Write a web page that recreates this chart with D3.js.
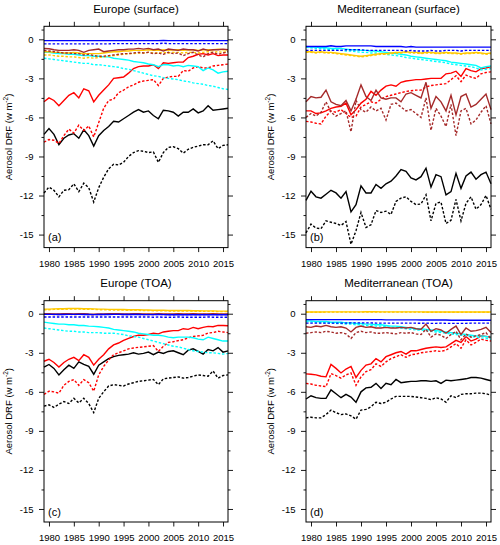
<!DOCTYPE html>
<html><head><meta charset="utf-8">
<script src="https://cdn.jsdelivr.net/npm/d3@7"></script>
<style>
body{margin:0;background:#fff;}
svg{display:block;font-family:"Liberation Sans",Arial,sans-serif;}
</style></head>
<body><svg id="chart" width="500" height="545"></svg>
<script>
const years = [1979,1980,1981,1982,1983,1984,1985,1986,1987,1988,1989,1990,1991,1992,1993,1994,1995,1996,1997,1998,1999,2000,2001,2002,2003,2004,2005,2006,2007,2008,2009,2010,2011,2012,2013,2014,2015,2016];
const xTickYears = [1980,1985,1990,1995,2000,2005,2010,2015];
const yMajorTicks = [0,-3,-6,-9,-12,-15];
const yMinorTicks = [0.75,-1.5,-4.5,-7.5,-10.5,-13.5];
const panelTitles = ["Europe (surface)","Mediterranean (surface)","Europe (TOA)","Mediterranean (TOA)"];
const panelLabels = ["(a)","(b)","(c)","(d)"];
const yAxisTitle = "Aerosol DRF (w m";

// ---- Panel (a) Europe surface ----
const a_blackS=[-7.3,-6.85,-7.3,-8.1,-7.6,-7.35,-7.25,-7.6,-6.95,-7.4,-8.2,-7.4,-7.0,-6.7,-6.3,-6.35,-6.1,-5.85,-5.6,-5.4,-5.6,-5.5,-5.85,-6.1,-5.45,-5.5,-5.6,-5.9,-5.6,-5.6,-5.35,-5.65,-5.5,-5.1,-5.45,-5.4,-5.35,-5.3];
const a_blackD=[-11.8,-11.35,-11.6,-12.1,-11.6,-11.55,-11.1,-11.7,-11.05,-11.4,-12.5,-11.4,-10.6,-9.95,-9.6,-9.65,-9.45,-9.0,-8.7,-8.55,-8.6,-8.7,-8.65,-9.45,-8.7,-8.3,-8.25,-8.4,-8.75,-8.45,-8.3,-8.2,-8.1,-8.1,-7.8,-8.4,-8.15,-8.1];
const a_redS=[-4.8,-4.5,-4.7,-5.1,-4.7,-4.3,-4.1,-4.5,-3.8,-3.95,-4.8,-4.3,-3.9,-3.5,-3.0,-2.95,-2.9,-2.6,-2.25,-2.1,-2.05,-2.05,-1.95,-2.25,-1.8,-1.85,-1.8,-1.75,-1.75,-1.4,-1.3,-1.15,-1.1,-1.2,-1.1,-1.25,-1.2,-1.2];
const a_redD=[-7.9,-7.7,-7.75,-8.0,-7.4,-6.9,-7.2,-6.6,-7.0,-6.65,-7.5,-6.4,-5.3,-4.7,-4.6,-4.1,-3.9,-3.65,-3.5,-3.3,-3.2,-3.15,-3.1,-3.55,-3.0,-2.9,-2.85,-2.85,-2.4,-2.45,-2.2,-2.1,-2.2,-2.2,-2.05,-2.0,-1.95,-1.9];
const a_cyanS=[-1.0,-1.0,-1.05,-1.1,-1.1,-1.15,-1.15,-1.2,-1.25,-1.25,-1.3,-1.3,-1.35,-1.35,-1.45,-1.5,-1.55,-1.6,-1.7,-1.75,-1.8,-1.9,-1.95,-2.1,-1.95,-1.95,-2.05,-2.0,-2.1,-2.0,-2.05,-2.1,-2.4,-2.2,-2.35,-2.6,-2.5,-2.45];
const a_cyanD=[-1.45,-1.5,-1.55,-1.6,-1.65,-1.7,-1.75,-1.8,-1.85,-1.85,-1.95,-1.95,-2.0,-2.05,-2.1,-2.15,-2.25,-2.3,-2.4,-2.5,-2.6,-2.7,-2.8,-2.85,-2.95,-3.0,-3.05,-3.1,-3.2,-3.25,-3.35,-3.4,-3.45,-3.55,-3.6,-3.7,-3.8,-3.85];
const a_yellowS=[-0.95,-0.95,-1.0,-1.0,-1.05,-1.05,-1.0,-1.05,-1.1,-1.1,-1.1,-1.1,-1.05,-1.0,-0.95,-0.95,-0.9,-0.9,-0.85,-0.85,-0.85,-0.8,-0.85,-0.85,-0.8,-0.85,-0.8,-0.8,-0.85,-0.8,-0.8,-0.85,-0.8,-0.8,-0.8,-0.75,-0.8,-0.8];
const a_yellowD=[-1.2,-1.2,-1.25,-1.3,-1.3,-1.35,-1.35,-1.4,-1.45,-1.4,-1.45,-1.4,-1.35,-1.3,-1.25,-1.2,-1.15,-1.1,-1.1,-1.05,-1.05,-1.0,-1.05,-1.05,-1.0,-1.05,-1.0,-1.0,-1.05,-1.0,-1.0,-1.05,-1.0,-0.95,-1.0,-0.95,-1.0,-0.95];
const a_brownS=[-0.7,-0.72,-0.8,-0.85,-0.85,-0.85,-0.8,-0.85,-1.0,-0.85,-0.8,-0.75,-0.95,-0.9,-0.85,-0.8,-0.8,-0.75,-0.75,-0.7,-0.75,-0.7,-0.8,-0.75,-0.9,-0.75,-0.8,-0.85,-0.75,-0.8,-0.8,-0.9,-0.75,-0.85,-0.8,-0.8,-0.75,-0.8];
const a_brownD=[-0.85,-0.9,-0.95,-1.0,-1.05,-1.05,-1.1,-1.1,-1.2,-1.15,-1.25,-1.3,-1.3,-1.25,-1.2,-1.15,-1.1,-1.1,-1.05,-1.0,-1.05,-1.0,-1.1,-1.05,-1.15,-1.0,-1.1,-1.05,-1.25,-1.1,-1.0,-1.2,-1.35,-1.1,-1.0,-1.15,-1.05,-0.95];
const a_blueS=[-0.1,-0.1,-0.1,-0.1,-0.1,-0.1,-0.1,-0.1,-0.1,-0.1,-0.1,-0.1,-0.1,-0.1,-0.1,-0.1,-0.1,-0.1,-0.1,-0.1,-0.1,-0.1,-0.1,-0.1,-0.08,-0.1,-0.1,-0.1,-0.1,-0.1,-0.1,-0.1,-0.1,-0.1,-0.1,-0.1,-0.1,-0.1];
const a_blueD=[-0.35,-0.35,-0.35,-0.35,-0.35,-0.35,-0.35,-0.35,-0.35,-0.35,-0.35,-0.35,-0.35,-0.35,-0.33,-0.33,-0.33,-0.33,-0.33,-0.33,-0.33,-0.33,-0.33,-0.33,-0.3,-0.33,-0.33,-0.33,-0.33,-0.33,-0.33,-0.33,-0.33,-0.33,-0.33,-0.33,-0.33,-0.33];

// ---- Panel (b) Mediterranean surface ----
const b_blackS=[-12.37,-11.67,-12.1,-12.2,-11.9,-11.6,-11.8,-12.2,-11.7,-13.25,-12.7,-11.25,-11.8,-11.8,-11.15,-11.45,-11.1,-10.9,-10.5,-10.0,-10.15,-10.65,-10.8,-10.55,-9.9,-11.35,-10.4,-10.55,-11.95,-11.7,-10.3,-11.45,-10.5,-10.2,-10.75,-10.4,-10.2,-11.1];
const b_blackD=[-14.87,-14.2,-14.5,-14.55,-13.95,-14.05,-14.15,-14.3,-14.0,-15.75,-14.7,-13.3,-14.45,-14.25,-13.15,-13.3,-13.2,-13.45,-12.45,-12.2,-12.1,-12.45,-12.7,-12.65,-11.95,-13.95,-12.6,-12.5,-14.15,-13.9,-12.3,-13.95,-12.6,-12.1,-13.05,-12.7,-12.0,-13.05];
const b_redS=[-5.5,-5.5,-5.7,-5.65,-5.5,-5.3,-5.2,-5.15,-4.9,-5.8,-5.4,-4.9,-4.6,-4.0,-4.3,-3.9,-3.6,-3.5,-3.6,-3.3,-3.2,-3.15,-3.1,-3.1,-3.05,-3.0,-3.0,-3.0,-2.65,-2.6,-2.45,-2.85,-2.25,-2.4,-2.5,-2.25,-2.2,-2.1];
const b_redD=[-6.3,-6.35,-6.45,-6.5,-5.9,-5.5,-5.6,-5.4,-5.7,-6.0,-5.9,-5.2,-5.0,-4.8,-4.9,-4.6,-4.4,-4.3,-4.2,-4.1,-4.0,-3.95,-3.9,-3.9,-3.65,-3.55,-3.5,-3.45,-3.4,-3.1,-2.8,-3.25,-2.75,-2.9,-3.0,-2.65,-2.55,-2.5];
const b_cyanS=[-0.55,-0.6,-0.6,-0.65,-0.65,-0.7,-0.7,-0.7,-0.75,-0.8,-0.8,-0.85,-0.85,-0.9,-0.9,-0.95,-1.0,-1.05,-1.1,-1.15,-1.2,-1.3,-1.35,-1.4,-1.45,-1.5,-1.55,-1.6,-1.65,-1.75,-1.8,-1.85,-1.9,-1.95,-2.0,-2.2,-2.1,-2.05];
const b_cyanD=[-0.6,-0.65,-0.7,-0.7,-0.75,-0.8,-0.8,-0.85,-0.9,-0.9,-0.95,-1.0,-1.0,-1.05,-1.05,-1.1,-1.15,-1.2,-1.25,-1.3,-1.4,-1.45,-1.5,-1.55,-1.6,-1.65,-1.7,-1.75,-1.8,-1.9,-1.95,-2.0,-2.05,-2.1,-2.2,-2.35,-2.3,-2.25];
const b_yellowS=[-0.95,-0.95,-1.0,-0.95,-1.0,-1.0,-1.05,-1.1,-1.15,-1.2,-1.25,-1.3,-1.25,-1.2,-1.15,-1.1,-1.1,-1.05,-1.0,-1.0,-0.95,-1.0,-1.0,-1.05,-1.0,-1.0,-1.05,-1.05,-1.0,-1.05,-1.05,-1.1,-1.05,-1.05,-1.0,-1.05,-1.1,-1.05];
const b_yellowD=[-1.0,-1.0,-1.05,-1.0,-1.05,-1.05,-1.1,-1.15,-1.2,-1.25,-1.3,-1.35,-1.3,-1.25,-1.2,-1.15,-1.15,-1.1,-1.05,-1.05,-1.0,-1.05,-1.05,-1.1,-1.05,-1.05,-1.1,-1.1,-1.05,-1.1,-1.1,-1.15,-1.1,-1.1,-1.05,-1.1,-1.15,-1.1];
const b_brownS=[-4.8,-4.4,-4.5,-4.45,-3.9,-4.8,-5.0,-5.1,-4.7,-5.5,-4.6,-3.5,-4.4,-4.7,-3.9,-4.5,-4.6,-4.5,-4.5,-4.8,-4.2,-4.1,-4.3,-4.5,-3.3,-5.3,-4.4,-4.8,-5.5,-4.3,-5.8,-4.4,-4.2,-5.2,-5.0,-4.6,-4.2,-5.4];
const b_brownD=[-6.0,-5.7,-5.9,-5.6,-4.8,-5.6,-5.9,-5.7,-5.5,-7.1,-4.7,-5.4,-5.6,-5.2,-5.5,-5.3,-6.2,-5.0,-4.9,-5.2,-5.5,-5.4,-5.7,-6.0,-4.5,-7.0,-5.3,-5.9,-6.7,-5.0,-7.4,-5.5,-5.3,-6.5,-6.2,-5.6,-5.1,-6.5];
const b_blueS=[-0.55,-0.55,-0.55,-0.55,-0.55,-0.5,-0.55,-0.55,-0.5,-0.5,-0.5,-0.5,-0.5,-0.5,-0.55,-0.55,-0.55,-0.55,-0.55,-0.55,-0.6,-0.55,-0.6,-0.6,-0.6,-0.6,-0.6,-0.6,-0.6,-0.6,-0.6,-0.6,-0.6,-0.6,-0.6,-0.6,-0.6,-0.6];
const b_blueD=[-0.85,-0.85,-0.85,-0.85,-0.85,-0.85,-0.85,-0.85,-0.8,-0.8,-0.8,-0.8,-0.85,-0.85,-0.85,-0.85,-0.85,-0.85,-0.85,-0.85,-0.9,-0.85,-0.9,-0.9,-0.9,-0.85,-0.9,-0.9,-0.85,-0.85,-0.85,-0.9,-0.85,-0.85,-0.85,-0.85,-0.85,-0.85];

// ---- Panel (c) Europe TOA ----
const c_blackS=[-4.1,-3.9,-4.2,-4.7,-4.3,-3.95,-4.2,-3.7,-3.9,-4.05,-4.65,-3.95,-3.7,-3.45,-3.3,-3.2,-3.15,-3.1,-3.0,-3.1,-3.05,-2.95,-3.15,-2.95,-3.05,-2.9,-2.85,-3.0,-3.15,-2.8,-2.7,-2.9,-3.1,-2.75,-2.85,-2.6,-2.95,-2.85];
const c_blackD=[-7.1,-7.0,-7.2,-6.95,-6.75,-6.9,-6.5,-6.85,-6.5,-6.9,-7.6,-6.5,-6.0,-5.55,-5.45,-5.5,-5.55,-5.4,-5.3,-5.2,-5.15,-5.1,-5.05,-5.45,-5.0,-4.95,-4.9,-4.85,-4.95,-4.9,-4.8,-4.7,-4.75,-4.8,-4.4,-4.95,-4.75,-4.7];
const c_redS=[-3.65,-3.5,-3.75,-4.1,-3.75,-3.5,-3.35,-3.6,-3.15,-3.35,-3.95,-3.5,-3.15,-2.7,-2.4,-2.25,-2.05,-1.9,-1.75,-1.65,-1.65,-1.6,-1.5,-1.55,-1.4,-1.35,-1.3,-1.3,-1.15,-1.2,-1.05,-1.15,-1.05,-0.97,-1.0,-0.9,-0.9,-0.92];
const c_redD=[-6.2,-5.95,-6.0,-6.1,-5.5,-5.2,-5.06,-5.5,-5.06,-5.3,-5.95,-4.7,-4.05,-3.55,-3.15,-3.0,-2.85,-2.7,-2.63,-2.58,-2.55,-2.5,-2.45,-2.9,-2.5,-2.2,-2.15,-2.07,-2.0,-1.85,-1.75,-1.7,-1.66,-1.48,-1.45,-1.35,-1.4,-1.45];
const c_cyanS=[-0.65,-0.7,-0.75,-0.8,-0.8,-0.85,-0.85,-0.9,-0.9,-0.95,-0.97,-1.0,-1.05,-1.1,-1.2,-1.25,-1.3,-1.35,-1.4,-1.5,-1.55,-1.6,-1.65,-1.65,-1.7,-1.8,-1.85,-1.8,-1.8,-1.8,-1.85,-1.95,-2.0,-1.8,-1.9,-2.0,-2.1,-2.1];
const c_cyanD=[-1.1,-1.15,-1.2,-1.25,-1.3,-1.35,-1.35,-1.4,-1.4,-1.45,-1.45,-1.45,-1.5,-1.5,-1.5,-1.55,-1.6,-1.7,-1.75,-1.8,-1.9,-2.0,-2.1,-2.2,-2.3,-2.4,-2.5,-2.55,-2.65,-2.75,-2.85,-2.9,-2.95,-3.0,-3.0,-3.05,-3.1,-3.05];
const c_yellowS=[0.35,0.35,0.37,0.38,0.38,0.4,0.4,0.4,0.38,0.38,0.37,0.35,0.35,0.33,0.33,0.32,0.32,0.3,0.3,0.3,0.28,0.28,0.27,0.27,0.27,0.25,0.25,0.25,0.25,0.25,0.23,0.23,0.22,0.22,0.22,0.2,0.2,0.2];
const c_yellowD=[0.31,0.31,0.33,0.34,0.34,0.36,0.36,0.36,0.34,0.34,0.33,0.31,0.31,0.29,0.29,0.28,0.28,0.26,0.26,0.26,0.24,0.24,0.23,0.23,0.23,0.21,0.21,0.21,0.21,0.21,0.19,0.19,0.18,0.18,0.18,0.16,0.16,0.16];
const c_brownS=[0.0,0.0,-0.02,-0.02,0.0,0.0,-0.02,0.0,0.0,-0.02,-0.03,-0.02,-0.02,0.0,0.0,0.0,-0.02,-0.02,0.0,0.0,-0.02,-0.02,-0.02,0.0,-0.02,-0.02,-0.02,0.0,-0.02,-0.02,0.0,-0.02,-0.02,-0.02,0.0,-0.02,-0.02,-0.02];
const c_brownD=[-0.05,-0.05,-0.06,-0.06,-0.05,-0.05,-0.06,-0.05,-0.05,-0.07,-0.08,-0.06,-0.06,-0.05,-0.05,-0.05,-0.06,-0.06,-0.05,-0.05,-0.06,-0.06,-0.07,-0.05,-0.06,-0.06,-0.08,-0.05,-0.07,-0.06,-0.05,-0.07,-0.06,-0.06,-0.05,-0.06,-0.07,-0.06];
const c_blueS=[-0.05,-0.05,-0.05,-0.06,-0.06,-0.05,-0.05,-0.05,-0.06,-0.06,-0.07,-0.06,-0.06,-0.06,-0.05,-0.05,-0.06,-0.06,-0.06,-0.06,-0.07,-0.07,-0.07,-0.06,-0.07,-0.08,-0.08,-0.07,-0.08,-0.08,-0.08,-0.08,-0.08,-0.08,-0.08,-0.08,-0.08,-0.08];
const c_blueD=[-0.25,-0.25,-0.25,-0.25,-0.25,-0.25,-0.25,-0.25,-0.25,-0.25,-0.25,-0.25,-0.25,-0.25,-0.25,-0.25,-0.25,-0.25,-0.25,-0.25,-0.25,-0.25,-0.27,-0.25,-0.27,-0.27,-0.27,-0.25,-0.27,-0.27,-0.27,-0.27,-0.27,-0.25,-0.27,-0.27,-0.27,-0.27];

// ---- Panel (d) Mediterranean TOA ----
const d_blackS=[-6.55,-6.3,-6.45,-6.5,-6.5,-5.85,-6.15,-6.45,-6.2,-6.4,-6.8,-6.0,-5.7,-5.65,-5.35,-5.75,-5.35,-5.45,-5.05,-5.3,-5.25,-5.2,-5.2,-5.15,-5.15,-5.2,-5.15,-5.35,-5.1,-5.15,-5.1,-5.05,-5.0,-4.9,-4.9,-4.95,-5.05,-5.15];
const d_blackD=[-8.0,-7.95,-8.0,-8.0,-7.75,-7.4,-7.6,-7.75,-7.7,-7.85,-8.1,-7.4,-7.35,-7.15,-6.8,-6.9,-6.8,-6.55,-6.35,-6.35,-6.35,-6.35,-6.4,-6.45,-6.5,-6.6,-6.45,-6.55,-6.8,-6.3,-6.45,-6.2,-6.15,-6.15,-6.1,-6.1,-6.15,-6.25];
const d_redS=[-4.62,-4.65,-4.7,-4.8,-4.85,-3.9,-4.2,-4.55,-4.25,-4.05,-4.9,-4.35,-3.95,-3.85,-3.45,-3.7,-3.3,-3.15,-3.0,-2.9,-3.1,-2.85,-2.85,-2.75,-2.65,-2.6,-2.55,-2.6,-2.55,-2.3,-2.05,-2.2,-1.75,-2.1,-1.95,-1.7,-1.75,-1.8];
const d_redD=[-5.35,-5.4,-5.5,-5.55,-5.6,-4.6,-4.75,-4.95,-4.7,-4.55,-5.5,-4.85,-4.45,-4.3,-3.85,-4.05,-3.7,-3.45,-3.3,-3.15,-3.35,-3.15,-3.1,-3.0,-2.95,-2.9,-2.85,-2.9,-2.8,-2.55,-2.3,-2.65,-2.0,-2.4,-2.2,-1.95,-2.05,-2.1];
const d_cyanS=[-0.55,-0.55,-0.6,-0.6,-0.6,-0.65,-0.65,-0.65,-0.7,-0.7,-0.75,-0.75,-0.8,-0.8,-0.85,-0.85,-0.9,-0.95,-0.95,-1.0,-1.05,-1.1,-1.15,-1.15,-1.2,-1.25,-1.3,-1.35,-1.4,-1.45,-1.5,-1.55,-1.6,-1.65,-1.7,-1.7,-1.75,-1.8];
const d_cyanD=[-0.6,-0.62,-0.65,-0.68,-0.7,-0.72,-0.75,-0.75,-0.8,-0.8,-0.85,-0.85,-0.9,-0.9,-0.95,-0.95,-1.0,-1.05,-1.05,-1.1,-1.15,-1.2,-1.25,-1.25,-1.3,-1.35,-1.4,-1.45,-1.5,-1.55,-1.6,-1.65,-1.7,-1.75,-1.8,-1.85,-1.9,-1.95];
const d_yellowS=[0.13,0.13,0.13,0.13,0.14,0.14,0.14,0.14,0.14,0.14,0.14,0.14,0.15,0.15,0.15,0.14,0.14,0.14,0.14,0.14,0.14,0.14,0.14,0.14,0.13,0.13,0.13,0.13,0.13,0.13,0.13,0.13,0.13,0.13,0.13,0.13,0.13,0.13];
const d_yellowD=[0.11,0.11,0.11,0.11,0.12,0.12,0.12,0.12,0.12,0.12,0.12,0.12,0.13,0.13,0.13,0.12,0.12,0.12,0.12,0.12,0.12,0.12,0.12,0.12,0.11,0.11,0.11,0.11,0.11,0.11,0.11,0.11,0.11,0.11,0.11,0.11,0.11,0.11];
const d_brownS=[-1.0,-1.05,-0.95,-1.0,-0.9,-1.0,-1.05,-1.0,-1.1,-1.4,-1.05,-0.95,-1.05,-1.0,-1.1,-1.1,-1.05,-1.1,-1.1,-1.05,-1.1,-1.05,-1.15,-1.2,-0.8,-1.35,-1.15,-1.25,-1.5,-1.2,-0.95,-1.6,-1.1,-1.35,-1.3,-1.2,-1.05,-1.45];
const d_brownD=[-1.5,-1.45,-1.4,-1.45,-1.35,-1.4,-1.5,-1.45,-1.55,-1.9,-1.45,-1.35,-1.45,-1.4,-1.5,-1.5,-1.45,-1.5,-1.55,-1.45,-1.5,-1.45,-1.55,-1.6,-1.2,-1.8,-1.55,-1.65,-1.9,-1.6,-1.35,-2.0,-1.55,-1.8,-1.7,-1.6,-1.45,-1.95];
const d_blueS=[-0.45,-0.45,-0.45,-0.45,-0.45,-0.45,-0.45,-0.45,-0.45,-0.45,-0.45,-0.45,-0.45,-0.45,-0.45,-0.45,-0.47,-0.47,-0.47,-0.47,-0.47,-0.47,-0.47,-0.48,-0.48,-0.48,-0.48,-0.48,-0.48,-0.5,-0.5,-0.5,-0.5,-0.5,-0.5,-0.5,-0.5,-0.5];
const d_blueD=[-0.72,-0.72,-0.72,-0.72,-0.72,-0.72,-0.72,-0.72,-0.72,-0.7,-0.7,-0.7,-0.7,-0.7,-0.72,-0.72,-0.72,-0.72,-0.72,-0.72,-0.72,-0.72,-0.72,-0.74,-0.72,-0.74,-0.74,-0.72,-0.74,-0.74,-0.74,-0.74,-0.74,-0.72,-0.72,-0.72,-0.72,-0.72];

const colors = {black:"#000000", red:"#ff0000", cyan:"#00ffff", yellow:"#ffc800", brown:"#a52a2a", blue:"#0000ff"};
const drawOrder = ["black","red","cyan","yellow","brown","blue"];

const panelData = [
  {black:[a_blackS,a_blackD],red:[a_redS,a_redD],cyan:[a_cyanS,a_cyanD],yellow:[a_yellowS,a_yellowD],brown:[a_brownS,a_brownD],blue:[a_blueS,a_blueD]},
  {black:[b_blackS,b_blackD],red:[b_redS,b_redD],cyan:[b_cyanS,b_cyanD],yellow:[b_yellowS,b_yellowD],brown:[b_brownS,b_brownD],blue:[b_blueS,b_blueD]},
  {black:[c_blackS,c_blackD],red:[c_redS,c_redD],cyan:[c_cyanS,c_cyanD],yellow:[c_yellowS,c_yellowD],brown:[c_brownS,c_brownD],blue:[c_blueS,c_blueD]},
  {black:[d_blackS,d_blackD],red:[d_redS,d_redD],cyan:[d_cyanS,d_cyanD],yellow:[d_yellowS,d_yellowD],brown:[d_brownS,d_brownD],blue:[d_blueS,d_blueD]}
];

const svg = d3.select("#chart");
const layout = [
  {x0:44, x1:228, y0:26.3, y1:247.6},
  {x0:306, x1:491, y0:26.3, y1:247.6},
  {x0:44, x1:228, y0:300.7, y1:522},
  {x0:306, x1:491, y0:300.7, y1:522}
];
const fmt = d => String(d);

layout.forEach((L, i) => {
  const x = d3.scaleLinear().domain([1979, 2016]).range([L.x0, L.x1]);
  const y = d3.scaleLinear().domain([-16, 1]).range([L.y1, L.y0]);
  const g = svg.append("g");

  // series
  const line = d3.line().x((d, k) => x(years[k])).y(d => y(d));
  drawOrder.forEach(key => {
    const [sol, dot] = panelData[i][key];
    g.append("path").datum(dot).attr("d", line).attr("fill", "none")
      .attr("stroke", colors[key]).attr("stroke-width", 1.4).attr("stroke-dasharray", "2.5,1.8");
    g.append("path").datum(sol).attr("d", line).attr("fill", "none")
      .attr("stroke", colors[key]).attr("stroke-width", 1.4);
  });

  // frame
  g.append("rect").attr("x", L.x0).attr("y", L.y0).attr("width", L.x1 - L.x0).attr("height", L.y1 - L.y0)
    .attr("fill", "none").attr("stroke", "#000").attr("stroke-width", 1);

  // axes
  const styleAxis = sel => { sel.select(".domain").remove(); sel.selectAll("line").attr("stroke", "#000").attr("stroke-width", 0.9); };
  const bottom = g.append("g").attr("transform", `translate(0,${L.y1})`)
    .call(d3.axisBottom(x).tickValues(xTickYears).tickSize(4.5).tickPadding(8).tickFormat(fmt));
  styleAxis(bottom);
  bottom.selectAll("text").attr("font-size", 9.5).attr("font-family", "Liberation Sans, Arial, sans-serif").attr("fill", "#000");
  const top = g.append("g").attr("transform", `translate(0,${L.y0})`)
    .call(d3.axisTop(x).tickValues(xTickYears).tickSize(4.5).tickFormat(""));
  styleAxis(top);

  const left = g.append("g").attr("transform", `translate(${L.x0},0)`)
    .call(d3.axisLeft(y).tickValues(yMajorTicks).tickSize(5).tickPadding(5.5).tickFormat(fmt));
  styleAxis(left);
  left.selectAll("text").attr("font-size", 9.5).attr("font-family", "Liberation Sans, Arial, sans-serif").attr("fill", "#000");
  const leftMinor = g.append("g").attr("transform", `translate(${L.x0},0)`)
    .call(d3.axisLeft(y).tickValues(yMinorTicks).tickSize(2.5).tickFormat(""));
  styleAxis(leftMinor);
  const right = g.append("g").attr("transform", `translate(${L.x1},0)`)
    .call(d3.axisRight(y).tickValues(yMajorTicks).tickSize(5).tickFormat(""));
  styleAxis(right);
  const rightMinor = g.append("g").attr("transform", `translate(${L.x1},0)`)
    .call(d3.axisRight(y).tickValues(yMinorTicks).tickSize(2.5).tickFormat(""));
  styleAxis(rightMinor);

  // title
  g.append("text").attr("x", (L.x0 + L.x1) / 2).attr("y", L.y0 - 13.5)
    .attr("text-anchor", "middle").attr("font-size", 11.5).attr("fill", "#000").text(panelTitles[i]);

  // panel label
  g.append("text").attr("x", L.x0 + 4).attr("y", L.y1 - 6.5)
    .attr("font-size", 11).attr("fill", "#000").text(panelLabels[i]);

  // y title
  const yt = g.append("text")
    .attr("transform", `translate(${L.x0 - 32},${(L.y0 + L.y1) / 2}) rotate(-90)`)
    .attr("text-anchor", "middle").attr("font-size", 9.5).attr("fill", "#000");
  yt.append("tspan").text(yAxisTitle);
  yt.append("tspan").attr("font-size", 6.5).attr("dy", -4).text("-2");
  yt.append("tspan").attr("dy", 4).text(")");
});
</script>
</body></html>
